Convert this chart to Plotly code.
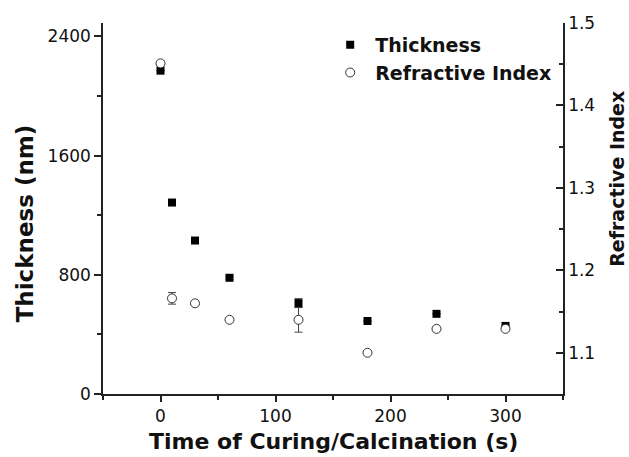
import plotly.graph_objects as go

time_s = [0, 10, 30, 60, 120, 180, 240, 300]
thickness_nm = [2170, 1285, 1030, 780, 610, 490, 538, 457]
thickness_err = [0, 15, 0, 10, 30, 0, 0, 0]
refr_index = [1.451, 1.166, 1.160, 1.140, 1.140, 1.100, 1.129, 1.129]
refr_err = [0.003, 0.007, 0, 0, 0.015, 0, 0, 0]

FONT = "DejaVu Sans"
AX = "#222222"

fig = go.Figure()
fig.add_trace(go.Scatter(
    x=time_s, y=thickness_nm, mode="markers", name="Thickness",
    marker=dict(symbol="square", size=8, color="black", line=dict(width=0)),
    error_y=dict(type="data", array=thickness_err, visible=True, color="#444", thickness=1, width=4),
    legendrank=1,
))
fig.add_trace(go.Scatter(
    x=time_s, y=refr_index, mode="markers", name="Refractive Index", yaxis="y2",
    marker=dict(symbol="circle", size=9, color="white", line=dict(width=1, color="#333")),
    error_y=dict(type="data", array=refr_err, visible=True, color="#444", thickness=1, width=4),
    legendrank=2,
))

fig.update_layout(
    width=629, height=457,
    margin=dict(l=103, r=66, t=23, b=63),
    paper_bgcolor="white", plot_bgcolor="white",
    font=dict(family=FONT, size=17, color="#111"),
    showlegend=True,
    legend=dict(x=0.483, y=0.992, xanchor="left", yanchor="top",
                bgcolor="rgba(0,0,0,0)", font=dict(family=FONT, weight="bold", size=19, color="#111"),
                itemwidth=40, tracegroupgap=0),
    xaxis=dict(range=[-50, 350], tick0=0, dtick=100, ticks="outside", ticklen=6, tickwidth=1.5,
               tickcolor=AX, showline=True, linecolor=AX, linewidth=1.5, showgrid=False, zeroline=False,
               minor=dict(dtick=50, ticks="outside", ticklen=4, tickwidth=1.5, tickcolor=AX)),
    xaxis2=dict(overlaying="x", matches="x", anchor="y", side="top", range=[-50, 350], tick0=0, dtick=100,
                ticks="inside", ticklen=6, tickwidth=1.5, tickcolor=AX, showline=True, linecolor=AX,
                linewidth=1.5, showgrid=False, zeroline=False, showticklabels=False,
                minor=dict(dtick=50, ticks="inside", ticklen=4, tickwidth=1.5, tickcolor=AX)),
    yaxis=dict(range=[0, 2490], tickvals=[0, 800, 1600, 2400], ticks="outside", ticklen=7, tickwidth=1.5,
               tickcolor=AX, showline=True, linecolor=AX, linewidth=1.5, showgrid=False, zeroline=False,
               minor=dict(tickvals=[400, 1200, 2000], ticks="outside", ticklen=4, tickwidth=1.5, tickcolor=AX)),
    yaxis2=dict(range=[1.05, 1.5], overlaying="y", side="right", anchor="x", tick0=1.1, dtick=0.1,
                tickformat=".1f", ticks="inside", ticklen=7, tickwidth=1.5, tickcolor=AX, showline=True,
                linecolor=AX, linewidth=1.5, showgrid=False, zeroline=False,
                minor=dict(dtick=0.05, ticks="inside", ticklen=4, tickwidth=1.5, tickcolor=AX)),
)

fig.add_annotation(text="<b>Time of Curing/Calcination (s)</b>", xref="paper", yref="paper",
                   x=0.5, y=0.0, yshift=-47, xanchor="center", yanchor="middle", showarrow=False,
                   font=dict(family=FONT, size=22, color="#111"))
fig.add_annotation(text="<b>Thickness (nm)</b>", xref="paper", yref="paper",
                   x=0, xshift=-78, y=0.46, xanchor="center", yanchor="middle", textangle=-90,
                   showarrow=False, font=dict(family=FONT, size=23, color="#111"))
fig.add_annotation(text="<b>Refractive Index</b>", xref="paper", yref="paper",
                   x=1, xshift=54, y=0.58, xanchor="center", yanchor="middle", textangle=-90,
                   showarrow=False, font=dict(family=FONT, size=19, color="#111"))

fig.write_html("out.html", config={"displayModeBar": False},
               post_script="document.body.style.margin='0';document.body.style.padding='0';")
